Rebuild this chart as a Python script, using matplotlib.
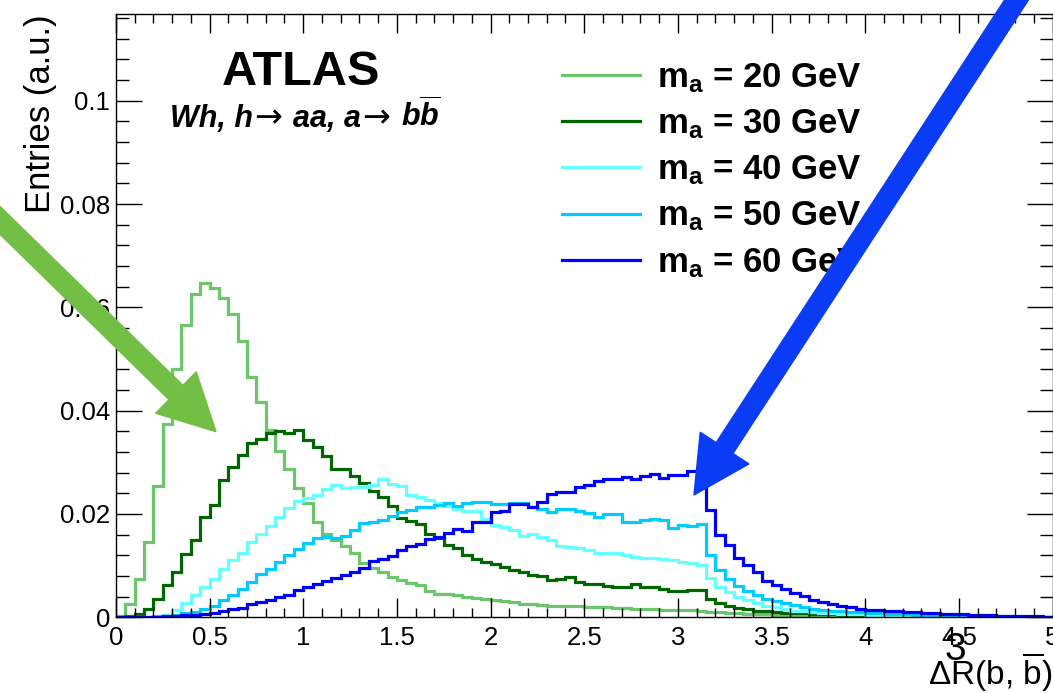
"""Delta R(b, bbar) distributions for Wh, h->aa, a->bb signal samples."""
import numpy as np
import matplotlib
matplotlib.use("Agg")
import matplotlib.pyplot as plt
from matplotlib.patches import FancyArrow
from matplotlib.ticker import MultipleLocator, FuncFormatter

plt.rcParams['font.family'] = ['Liberation Sans', 'DejaVu Sans']
plt.rcParams['mathtext.fontset'] = 'custom'
plt.rcParams['mathtext.rm'] = 'Liberation Sans'
plt.rcParams['mathtext.it'] = 'Liberation Sans:italic'
plt.rcParams['mathtext.bf'] = 'Liberation Sans:bold'
plt.rcParams['mathtext.bfit'] = 'Liberation Sans:italic:bold'

# 100 bins of width 0.05 in Delta R
bin_edges = np.linspace(0, 5, 101)

mass_points = [20, 30, 40, 50, 60]
line_colors = ['#6cc66c', '#006600', '#66ffff', '#00ccff', '#0000ff']

entries_m20 = [
    0.0003, 0.0025, 0.0075, 0.0145, 0.0255, 0.0375, 0.0480, 0.0565, 0.0625, 0.0648,
    0.0638, 0.0618, 0.0588, 0.0535, 0.0465, 0.0416, 0.0362, 0.0322, 0.0288, 0.0250,
    0.0221, 0.0185, 0.0162, 0.0150, 0.0138, 0.0124, 0.0105, 0.0095, 0.0087, 0.0078,
    0.0072, 0.0066, 0.0062, 0.0050, 0.0046, 0.0045, 0.0043, 0.0040, 0.0037, 0.0036,
    0.0033, 0.0031, 0.0029, 0.0026, 0.0025, 0.0024, 0.0022, 0.0022, 0.0021, 0.0021,
    0.0020, 0.0019, 0.0019, 0.0018, 0.0018, 0.0017, 0.0016, 0.0016, 0.0015, 0.0015,
    0.0014, 0.0014, 0.0013, 0.0011, 0.0010, 0.0009, 0.0008, 0.0007, 0.0006, 0.0006,
    0.0005, 0.0005, 0.0004, 0.0004, 0.0003, 0.0003, 0.0003, 0.0002, 0.0002, 0.0002,
    0.0002, 0.0002, 0.0001, 0.0001, 0.0001, 0.0001, 0.0001, 0.0001, 0.0001, 0.0001,
    0.0001, 0.0001, 0.0000, 0.0000, 0.0000, 0.0000, 0.0000, 0.0000, 0.0000, 0.0000,
]
entries_m30 = [
    0.0000, 0.0002, 0.0007, 0.0017, 0.0036, 0.0062, 0.0088, 0.0123, 0.0149, 0.0195,
    0.0217, 0.0265, 0.0291, 0.0315, 0.0338, 0.0345, 0.0357, 0.0360, 0.0357, 0.0363,
    0.0344, 0.0329, 0.0313, 0.0288, 0.0287, 0.0273, 0.0260, 0.0245, 0.0232, 0.0216,
    0.0192, 0.0187, 0.0180, 0.0161, 0.0153, 0.0140, 0.0134, 0.0121, 0.0112, 0.0108,
    0.0104, 0.0098, 0.0092, 0.0088, 0.0081, 0.0079, 0.0073, 0.0074, 0.0078, 0.0068,
    0.0065, 0.0065, 0.0060, 0.0059, 0.0059, 0.0065, 0.0059, 0.0059, 0.0054, 0.0051,
    0.0051, 0.0052, 0.0052, 0.0036, 0.0027, 0.0021, 0.0018, 0.0016, 0.0013, 0.0012,
    0.0010, 0.0009, 0.0009, 0.0008, 0.0007, 0.0006, 0.0006, 0.0005, 0.0005, 0.0004,
    0.0004, 0.0003, 0.0003, 0.0003, 0.0002, 0.0002, 0.0002, 0.0002, 0.0001, 0.0001,
    0.0001, 0.0001, 0.0001, 0.0001, 0.0001, 0.0000, 0.0000, 0.0000, 0.0000, 0.0000,
]
entries_m40 = [
    0.0000, 0.0000, 0.0000, 0.0000, 0.0001, 0.0005, 0.0014, 0.0027, 0.0043, 0.0058,
    0.0075, 0.0093, 0.0111, 0.0125, 0.0145, 0.0162, 0.0176, 0.0195, 0.0212, 0.0225,
    0.0231, 0.0236, 0.0248, 0.0256, 0.0251, 0.0253, 0.0253, 0.0256, 0.0267, 0.0258,
    0.0254, 0.0236, 0.0233, 0.0228, 0.0221, 0.0216, 0.0210, 0.0206, 0.0205, 0.0190,
    0.0179, 0.0175, 0.0169, 0.0158, 0.0161, 0.0155, 0.0150, 0.0138, 0.0136, 0.0135,
    0.0130, 0.0125, 0.0124, 0.0124, 0.0120, 0.0117, 0.0114, 0.0114, 0.0113, 0.0110,
    0.0107, 0.0105, 0.0102, 0.0077, 0.0059, 0.0049, 0.0040, 0.0033, 0.0027, 0.0022,
    0.0020, 0.0016, 0.0013, 0.0012, 0.0010, 0.0009, 0.0008, 0.0007, 0.0006, 0.0006,
    0.0005, 0.0005, 0.0004, 0.0004, 0.0003, 0.0003, 0.0003, 0.0002, 0.0002, 0.0002,
    0.0002, 0.0001, 0.0001, 0.0001, 0.0001, 0.0001, 0.0001, 0.0000, 0.0000, 0.0000,
]
entries_m50 = [
    0.0000, 0.0000, 0.0000, 0.0001, 0.0002, 0.0003, 0.0005, 0.0008, 0.0011, 0.0016,
    0.0022, 0.0033, 0.0044, 0.0054, 0.0068, 0.0083, 0.0094, 0.0107, 0.0120, 0.0133,
    0.0143, 0.0154, 0.0156, 0.0154, 0.0157, 0.0169, 0.0182, 0.0185, 0.0188, 0.0196,
    0.0204, 0.0208, 0.0213, 0.0214, 0.0217, 0.0221, 0.0216, 0.0221, 0.0224, 0.0224,
    0.0219, 0.0219, 0.0221, 0.0221, 0.0214, 0.0210, 0.0204, 0.0210, 0.0210, 0.0206,
    0.0202, 0.0195, 0.0200, 0.0200, 0.0185, 0.0185, 0.0189, 0.0191, 0.0188, 0.0172,
    0.0178, 0.0177, 0.0180, 0.0120, 0.0091, 0.0075, 0.0060, 0.0051, 0.0043, 0.0036,
    0.0031, 0.0027, 0.0023, 0.0020, 0.0017, 0.0015, 0.0013, 0.0012, 0.0011, 0.0010,
    0.0009, 0.0008, 0.0007, 0.0006, 0.0006, 0.0005, 0.0005, 0.0004, 0.0004, 0.0003,
    0.0003, 0.0003, 0.0002, 0.0002, 0.0002, 0.0002, 0.0001, 0.0001, 0.0001, 0.0001,
]
entries_m60 = [
    0.0000, 0.0000, 0.0000, 0.0001, 0.0001, 0.0002, 0.0003, 0.0004, 0.0005, 0.0007,
    0.0009, 0.0012, 0.0016, 0.0018, 0.0025, 0.0030, 0.0034, 0.0040, 0.0043, 0.0052,
    0.0059, 0.0065, 0.0071, 0.0076, 0.0082, 0.0088, 0.0096, 0.0109, 0.0112, 0.0118,
    0.0130, 0.0138, 0.0142, 0.0151, 0.0155, 0.0164, 0.0170, 0.0168, 0.0185, 0.0185,
    0.0203, 0.0206, 0.0219, 0.0219, 0.0214, 0.0224, 0.0239, 0.0243, 0.0243, 0.0252,
    0.0256, 0.0263, 0.0267, 0.0267, 0.0272, 0.0267, 0.0274, 0.0278, 0.0269, 0.0275,
    0.0275, 0.0284, 0.0284, 0.0207, 0.0160, 0.0140, 0.0114, 0.0101, 0.0088, 0.0071,
    0.0062, 0.0054, 0.0047, 0.0041, 0.0034, 0.0030, 0.0025, 0.0021, 0.0019, 0.0017,
    0.0015, 0.0014, 0.0013, 0.0012, 0.0011, 0.0010, 0.0009, 0.0008, 0.0007, 0.0006,
    0.0006, 0.0005, 0.0004, 0.0004, 0.0003, 0.0003, 0.0002, 0.0002, 0.0002, 0.0001,
]
all_entries = [entries_m20, entries_m30, entries_m40, entries_m50, entries_m60]

W, H = 1053, 693
fig = plt.figure(figsize=(W / 100, H / 100), dpi=100)
ax = fig.add_axes([115.9 / W, 1 - 617.3 / H, (1052.5 - 115.9) / W, (617.3 - 14) / H])

for mass, color, entries in zip(mass_points, line_colors, all_entries):
    ax.stairs(entries, bin_edges, color=color, linewidth=2.3,
              label=r'$\mathbf{m}_\mathbf{a}$ = %d GeV' % mass)

ax.set_xlim(0, 5)
ax.set_ylim(0, 0.1168)

# ROOT/ATLAS-like frame: ticks inside on all four sides
ax.xaxis.set_major_locator(MultipleLocator(0.5))
ax.xaxis.set_minor_locator(MultipleLocator(0.1))
ax.yaxis.set_major_locator(MultipleLocator(0.02))
ax.yaxis.set_minor_locator(MultipleLocator(0.004))
fmt = FuncFormatter(lambda v, p: '%g' % round(v, 4))
ax.xaxis.set_major_formatter(fmt)
ax.yaxis.set_major_formatter(fmt)
ax.tick_params(which='both', direction='in', top=True, right=True, width=1.0, labelsize=18.5)
ax.tick_params(axis='x', which='major', length=13.5, pad=6)
ax.tick_params(axis='x', which='minor', length=6.8)
ax.tick_params(axis='y', which='major', length=18.5, pad=4)
ax.tick_params(axis='y', which='minor', length=9.3)
for sp in ax.spines.values():
    sp.set_linewidth(1.0)

ax.set_xlabel(r'ΔR(b, $\overline{\mathrm{b}}$)', fontsize=24, loc='right', labelpad=1)
ax.set_ylabel('Entries (a.u.)', fontsize=25, loc='top', labelpad=2)

fig.text(301 / W, 1 - 85 / H, 'ATLAS', fontsize=35, fontweight='bold', ha='center', va='baseline')

# process label, built piece by piece so the arrows come out in a thin, long glyph
renderer = fig.canvas.get_renderer()
subtitle_parts = [
    ('Wh, h', 'Liberation Sans', 'bold', 'italic', 22, 1),
    ('→', 'DejaVu Sans', 'normal', 'normal', 24, 11),
    ('aa, a', 'Liberation Sans', 'bold', 'italic', 22, 1),
    ('→', 'DejaVu Sans', 'normal', 'normal', 24, 11),
    (r'b$\overline{\mathbfit{b}}$', 'Liberation Sans', 'bold', 'italic', 22, 0),
]
x_px = 170
for piece, fam, weight, style, size, gap in subtitle_parts:
    t = fig.text(x_px / W, 1 - 127 / H, piece, fontsize=size, family=fam,
                 fontweight=weight, style=style, ha='left', va='baseline')
    x_px = t.get_window_extent(renderer).x1 + gap

leg = ax.legend(loc='upper left', bbox_to_anchor=(0.476, 0.922), frameon=False,
                prop={'size': 25, 'weight': 'bold'}, handlelength=2.25,
                handletextpad=0.5, labelspacing=0.36, borderpad=0, borderaxespad=0)
for line in leg.get_lines():
    line.set_linewidth(2.3)

# stray glyph present in the original figure
fig.text(955 / W, 1 - 650 / H, '3', fontsize=28, ha='center', va='center')

# highlight arrows drawn over the figure (inch coordinates from bottom-left)
green_arrow = FancyArrow(-0.30, 5.02, 2.46, -2.407, width=0.20, head_width=0.58,
                         head_length=0.56, length_includes_head=True,
                         color='#73bf45', transform=fig.dpi_scale_trans, zorder=10)
blue_arrow = FancyArrow(10.36, 7.23, -3.42, -5.25, width=0.20, head_width=0.58,
                        head_length=0.56, length_includes_head=True,
                        color='#0a3cf5', transform=fig.dpi_scale_trans, zorder=10)
fig.add_artist(green_arrow)
fig.add_artist(blue_arrow)

fig.savefig('out.png', dpi=100)
